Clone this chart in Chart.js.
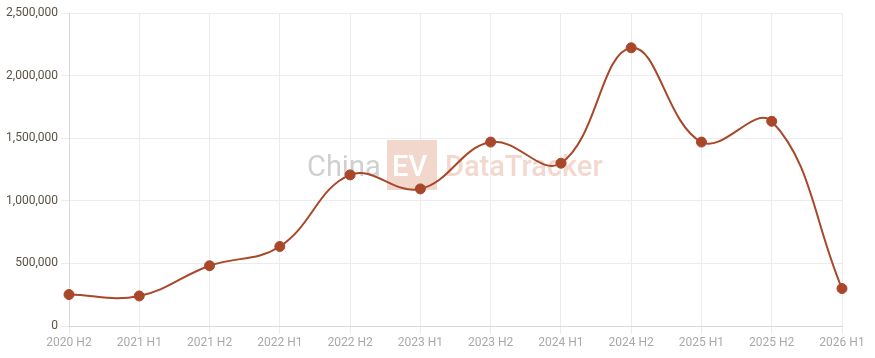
<!DOCTYPE html>
<html>
<head>
<meta charset="utf-8">
<script src="https://cdn.jsdelivr.net/npm/chart.js@4.4.1/dist/chart.umd.min.js"></script>
<style>
  html, body { margin: 0; padding: 0; background: #fff; }
  #wrap { width: 875px; height: 358px; }
</style>
</head>
<body>
<div id="wrap"><canvas id="salesChart"></canvas></div>
<script>
const periods = ["2020 H2", "2021 H1", "2021 H2", "2022 H1", "2022 H2", "2023 H1",
  "2023 H2", "2024 H1", "2024 H2", "2025 H1", "2025 H2", "2026 H1"];
const salesValues = [251000, 240000, 481000, 635000, 1207000, 1095000,
  1469000, 1300000, 2222000, 1469000, 1635000, 299000];
const yTicks = [0, 500000, 1000000, 1500000, 2000000, 2500000];

const lineColor = "#a8472a";

// watermark in the middle of the plot
const watermark = {
  id: "watermark",
  beforeDatasetsDraw(chart) {
    const ctx = chart.ctx;
    ctx.save();
    ctx.textBaseline = "alphabetic";
    const y = 176;
    ctx.font = "29px Roboto";
    ctx.fillStyle = "#d0d0d0";
    ctx.fillText("China", 307, y);
    ctx.fillStyle = "#f2d7cd";
    ctx.fillRect(387, 140, 50, 50);
    ctx.font = "500 29px Roboto";
    ctx.fillStyle = "#ffffff";
    ctx.fillText("EV", 392, y);
    ctx.fillStyle = "#f2d8cf";
    ctx.fillText("DataTracker", 445, y);
    ctx.restore();
  }
};

new Chart(document.getElementById("salesChart").getContext("2d"), {
  type: "line",
  data: {
    labels: periods,
    datasets: [{
      data: salesValues,
      borderColor: lineColor,
      backgroundColor: lineColor,
      borderWidth: 2,
      tension: 0.4,
      pointRadius: 5,
      pointBorderWidth: 1,
      pointBackgroundColor: lineColor,
      fill: false
    }]
  },
  options: {
    responsive: true,
    maintainAspectRatio: false,
    animation: false,
    layout: { padding: { top: 13, right: 33, left: 0, bottom: 0 } },
    plugins: {
      legend: { display: false },
      tooltip: { enabled: false }
    },
    scales: {
      x: {
        grid: { color: "#ececec", tickLength: 8 },
        border: { color: "#d9d9d9" },
        ticks: {
          color: "#a9a9a9",
          font: { family: "Roboto", size: 12 },
          maxRotation: 0,
          padding: 2
        },
        afterFit(scale) { scale.height = 32; }
      },
      y: {
        min: 0,
        max: 2500000,
        afterBuildTicks(scale) {
          scale.ticks = yTicks.map(v => ({ value: v }));
        },
        grid: { color: "#ececec", tickLength: 8 },
        border: { color: "#d9d9d9" },
        ticks: {
          color: "#5a5147",
          font: { family: "Roboto", size: 12 },
          padding: 3,
          callback: v => v.toLocaleString("en-US")
        },
        afterFit(scale) { scale.width = 69; }
      }
    }
  },
  plugins: [watermark]
});
</script>
</body>
</html>
